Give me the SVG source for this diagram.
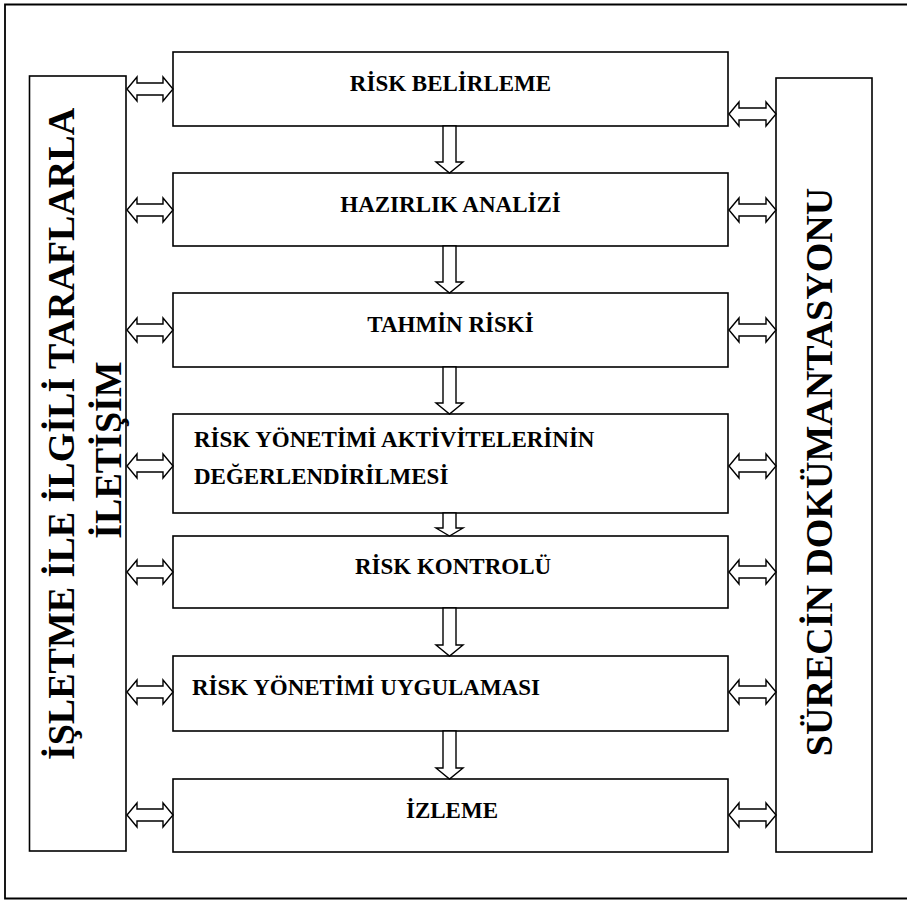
<svg xmlns="http://www.w3.org/2000/svg" width="907" height="901" viewBox="0 0 907 901">
<style>
.box{fill:#fff;stroke:#000;stroke-width:1.6}
.arr{fill:#fff;stroke:#000;stroke-width:1.4;stroke-linejoin:miter}
.t{font-family:"Liberation Serif","Times New Roman",serif;font-weight:bold;font-size:23px;fill:#000}
.c{text-anchor:middle}
.v{font-family:"Liberation Serif","Times New Roman",serif;font-weight:bold;font-size:38px;fill:#000;text-anchor:middle}
</style>
<rect width="907" height="901" fill="#fff"/>
<path d="M907,4.5 H5 V898.5 H907" fill="none" stroke="#000" stroke-width="1.8"/>
<g id="side-left">
<rect class="box" x="29.5" y="76" width="96.5" height="775"/>
<text class="v" transform="translate(74,434) rotate(-90)">İŞLETME İLE İLGİLİ TARAFLARLA</text>
<text class="v" transform="translate(121,450) rotate(-90)">İLETİŞİM</text>
</g>
<g id="side-right">
<rect class="box" x="776" y="78" width="96" height="774"/>
<text class="v" transform="translate(832,472) rotate(-90)">SÜRECİN DOKÜMANTASYONU</text>
</g>
<g id="n1"><rect class="box" x="173" y="52" width="555" height="74"/><text class="t c" x="450.5" y="91">RİSK BELİRLEME</text></g>
<g id="n2"><rect class="box" x="173" y="173" width="555" height="73"/><text class="t c" x="450.5" y="212">HAZIRLIK ANALİZİ</text></g>
<g id="n3"><rect class="box" x="173" y="293" width="555" height="74"/><text class="t c" x="450.5" y="332">TAHMİN RİSKİ</text></g>
<g id="n4"><rect class="box" x="173" y="414" width="555" height="99"/><text class="t" x="194" y="447">RİSK YÖNETİMİ AKTİVİTELERİNİN</text><text class="t" x="194" y="484">DEĞERLENDİRİLMESİ</text></g>
<g id="n5"><rect class="box" x="173" y="536" width="555" height="72"/><text class="t c" x="453" y="574">RİSK KONTROLÜ</text></g>
<g id="n6"><rect class="box" x="173" y="656" width="555" height="75"/><text class="t" x="192" y="695">RİSK YÖNETİMİ UYGULAMASI</text></g>
<g id="n7"><rect class="box" x="173" y="779" width="555" height="73"/><text class="t c" x="452" y="818">İZLEME</text></g>
<g id="connectors">
<path class="arr" d="M443,126 H456 V162 H463 L449.5,173 L436,162 H443 Z"/>
<path class="arr" d="M443,246 H456 V282 H463 L449.5,293 L436,282 H443 Z"/>
<path class="arr" d="M443,367 H456 V403 H463 L449.5,414 L436,403 H443 Z"/>
<path class="arr" d="M443,513 H456 V528 H463 L449.5,536 L436,528 H443 Z"/>
<path class="arr" d="M443,608 H456 V645 H463 L449.5,656 L436,645 H443 Z"/>
<path class="arr" d="M443,731 H456 V768 H463 L449.5,779 L436,768 H443 Z"/>
<path class="arr" d="M127,89 L137,77 V83 H163 V77 L173,89 L163,101 V95 H137 V101 Z"/>
<path class="arr" d="M127,210 L137,198 V204 H163 V198 L173,210 L163,222 V216 H137 V222 Z"/>
<path class="arr" d="M127,330 L137,318 V324 H163 V318 L173,330 L163,342 V336 H137 V342 Z"/>
<path class="arr" d="M127,466 L137,454 V460 H163 V454 L173,466 L163,478 V472 H137 V478 Z"/>
<path class="arr" d="M127,572 L137,560 V566 H163 V560 L173,572 L163,584 V578 H137 V584 Z"/>
<path class="arr" d="M127,692 L137,680 V686 H163 V680 L173,692 L163,704 V698 H137 V704 Z"/>
<path class="arr" d="M127,815 L137,803 V809 H163 V803 L173,815 L163,827 V821 H137 V827 Z"/>
<path class="arr" d="M729,114 L739,102 V108 H766 V102 L776,114 L766,126 V120 H739 V126 Z"/>
<path class="arr" d="M729,210 L739,198 V204 H766 V198 L776,210 L766,222 V216 H739 V222 Z"/>
<path class="arr" d="M729,330 L739,318 V324 H766 V318 L776,330 L766,342 V336 H739 V342 Z"/>
<path class="arr" d="M729,466 L739,454 V460 H766 V454 L776,466 L766,478 V472 H739 V478 Z"/>
<path class="arr" d="M729,572 L739,560 V566 H766 V560 L776,572 L766,584 V578 H739 V584 Z"/>
<path class="arr" d="M729,692 L739,680 V686 H766 V680 L776,692 L766,704 V698 H739 V704 Z"/>
<path class="arr" d="M729,815 L739,803 V809 H766 V803 L776,815 L766,827 V821 H739 V827 Z"/>
</g>
</svg>
